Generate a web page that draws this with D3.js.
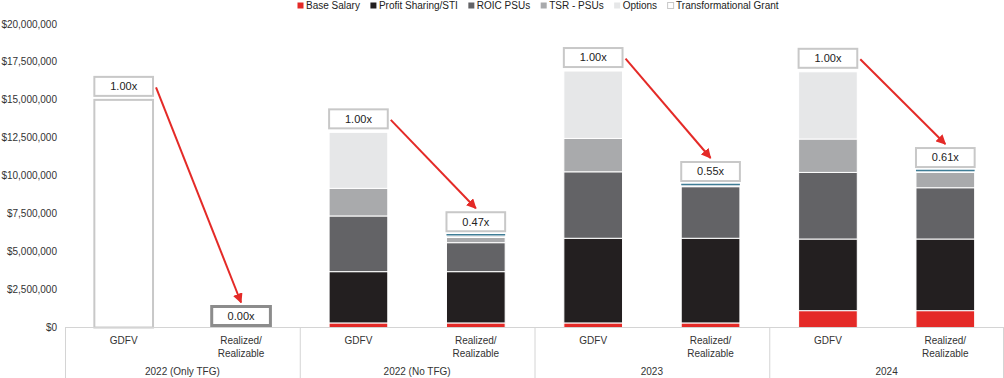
<!DOCTYPE html>
<html>
<head>
<meta charset="utf-8">
<script src="https://cdn.jsdelivr.net/npm/d3@7"></script>
<style>
  html, body { margin: 0; padding: 0; background: #fff; }
  svg { display: block; font-family: "Liberation Sans", Arial, sans-serif; }
</style>
</head>
<body>
<div id="chart"></div>
<script>
// 年ごとの GDFV と実現値の比較（積み上げ棒）
var GROUPS = ['2022 (Only TFG)', '2022 (No TFG)', '2023', '2024'];
var BARS = ['GDFV', 'Realized/\nRealizable'];

// 値は百万ドル単位、棒の並び順: G1 GDFV, G1 実現, G2 GDFV, ...
var baseSalary    = [0, 0, 0.30, 0.30, 0.30, 0.30, 1.11, 1.11];
var profitSharing = [0, 0, 3.38, 3.38, 5.58, 5.58, 4.72, 4.72];
var roicPsus      = [0, 0, 3.67, 1.91, 4.38, 3.40, 4.39, 3.38];
var tsrPsus       = [0, 0, 1.82, 0.34, 2.20, 0.00, 2.20, 1.01];
var options       = [0, 0, 3.69, 0.15, 4.44, 0.11, 4.43, 0.09];
var tfg           = [15.0, 0, 0, 0, 0, 0, 0, 0];
var multiples = ['1.00x', '0.00x', '1.00x', '0.47x', '1.00x', '0.55x', '1.00x', '0.61x'];
var Y_TICKS = [0, 2.5, 5, 7.5, 10, 12.5, 15, 17.5, 20];

var SERIES = [
  ['Base Salary', baseSalary, '#e42a27', null],
  ['Profit Sharing/STI', profitSharing, '#231f20', null],
  ['ROIC PSUs', roicPsus, '#636366', null],
  ['TSR - PSUs', tsrPsus, '#a9aaac', null],
  ['Options', options, '#e6e7e8', null],
  ['Transformational Grant', tfg, '#ffffff', '#c8c8c8']
];

var W = 1004, H = 378, ml = 65, mr = 0, top0 = 24, base = 327.5;
var svg = d3.select('#chart').append('svg').attr('width', W).attr('height', H);

var x0 = d3.scaleBand().domain(GROUPS).range([ml, W - mr]).padding(0);
var x1 = d3.scaleBand().domain(BARS).range([0, x0.bandwidth()])
  .paddingInner(0.5).paddingOuter(0.25);
var y = d3.scaleLinear().domain([0, 20]).range([base, top0]);

function barX(i) { return x0(GROUPS[Math.floor(i / 2)]) + x1(BARS[i % 2]); }
var bw = x1.bandwidth();

// Y軸ラベル
var fmt = d3.format('$,.0f');
Y_TICKS.forEach(function (t) {
  svg.append('text').attr('x', 57).attr('y', y(t)).attr('dy', '0.35em')
    .attr('text-anchor', 'end').attr('font-size', 10).attr('fill', '#333')
    .text(fmt(t * 1e6));
});

// 積み上げ棒
var totals = [];
multiples.forEach(function (m, i) {
  var cum = 0;
  SERIES.forEach(function (s) {
    var v = s[1][i];
    if (v > 0) {
      svg.append('rect').attr('x', barX(i)).attr('width', bw)
        .attr('y', y(cum + v)).attr('height', y(cum) - y(cum + v))
        .attr('fill', s[2])
        .attr('stroke', s[3] || '#fff').attr('stroke-width', s[3] ? 2 : 1);
    }
    cum += v;
  });
  totals.push(cum);
  // 実現値の上端マーカー
  if (i % 2 === 1 && cum > 0) {
    svg.append('line').attr('x1', barX(i)).attr('x2', barX(i) + bw)
      .attr('y1', y(cum) - 0.5).attr('y2', y(cum) - 0.5)
      .attr('stroke', '#3f7d96').attr('stroke-width', 1.5);
  }
});

// 倍率ボックス
var BOX_H = 19;
var boxes = multiples.map(function (m, i) {
  var zero = totals[i] === 0;
  var bottom = zero ? base - 2 : y(totals[i]) - 4;
  return { x: barX(i), y: bottom - BOX_H, text: m, zero: zero };
});
boxes.forEach(function (b) {
  svg.append('rect').attr('x', b.x).attr('y', b.y).attr('width', bw).attr('height', BOX_H)
    .attr('fill', '#fff').attr('stroke', b.zero ? '#8c8c8c' : '#c8c8c8')
    .attr('stroke-width', b.zero ? 3 : 2);
  svg.append('text').attr('x', b.x + bw / 2).attr('y', b.y + BOX_H / 2).attr('dy', '0.35em')
    .attr('text-anchor', 'middle').attr('font-size', 11).attr('fill', '#222').text(b.text);
});

// 矢印
svg.append('defs').append('marker').attr('id', 'ah')
  .attr('viewBox', '0 0 10 10').attr('refX', 9).attr('refY', 5)
  .attr('markerWidth', 5).attr('markerHeight', 5).attr('orient', 'auto')
  .append('path').attr('d', 'M0,0L10,5L0,10z').attr('fill', '#e42a27');
GROUPS.forEach(function (g, k) {
  var a = boxes[k * 2], b = boxes[k * 2 + 1];
  svg.append('line')
    .attr('x1', a.x + bw + 3).attr('y1', a.y + BOX_H / 2 + 1)
    .attr('x2', b.x + bw / 2).attr('y2', b.y - 4)
    .attr('stroke', '#e42a27').attr('stroke-width', 2)
    .attr('marker-end', 'url(#ah)');
});

// カテゴリ表
var grid = '#d4d4d4';
svg.append('line').attr('x1', ml).attr('x2', W).attr('y1', base).attr('y2', base)
  .attr('stroke', grid);
GROUPS.forEach(function (g) {
  svg.append('line').attr('x1', x0(g) + 0.5).attr('x2', x0(g) + 0.5)
    .attr('y1', base).attr('y2', H).attr('stroke', grid);
  svg.append('text').attr('x', x0(g) + x0.bandwidth() / 2).attr('y', 375)
    .attr('text-anchor', 'middle').attr('font-size', 10).attr('fill', '#333').text(g);
  BARS.forEach(function (b) {
    var cx = x0(g) + x1(b) + bw / 2;
    b.split('\n').forEach(function (line, j) {
      svg.append('text').attr('x', cx).attr('y', 344 + j * 13)
        .attr('text-anchor', 'middle').attr('font-size', 10).attr('fill', '#333').text(line);
    });
  });
});
svg.append('line').attr('x1', W - 0.5).attr('x2', W - 0.5).attr('y1', base).attr('y2', H)
  .attr('stroke', grid);

// 凡例
var lx = 297;
SERIES.forEach(function (s) {
  svg.append('rect').attr('x', lx + 0.5).attr('y', 2.5).attr('width', 6).attr('height', 6)
    .attr('fill', s[2]).attr('stroke', s[3] || 'none').attr('stroke-width', 1);
  var t = svg.append('text').attr('x', lx + 9).attr('y', 9)
    .attr('font-size', 10).attr('fill', '#222').text(s[0]);
  lx += 9 + t.node().getComputedTextLength() + 10;
});
</script>
</body>
</html>
